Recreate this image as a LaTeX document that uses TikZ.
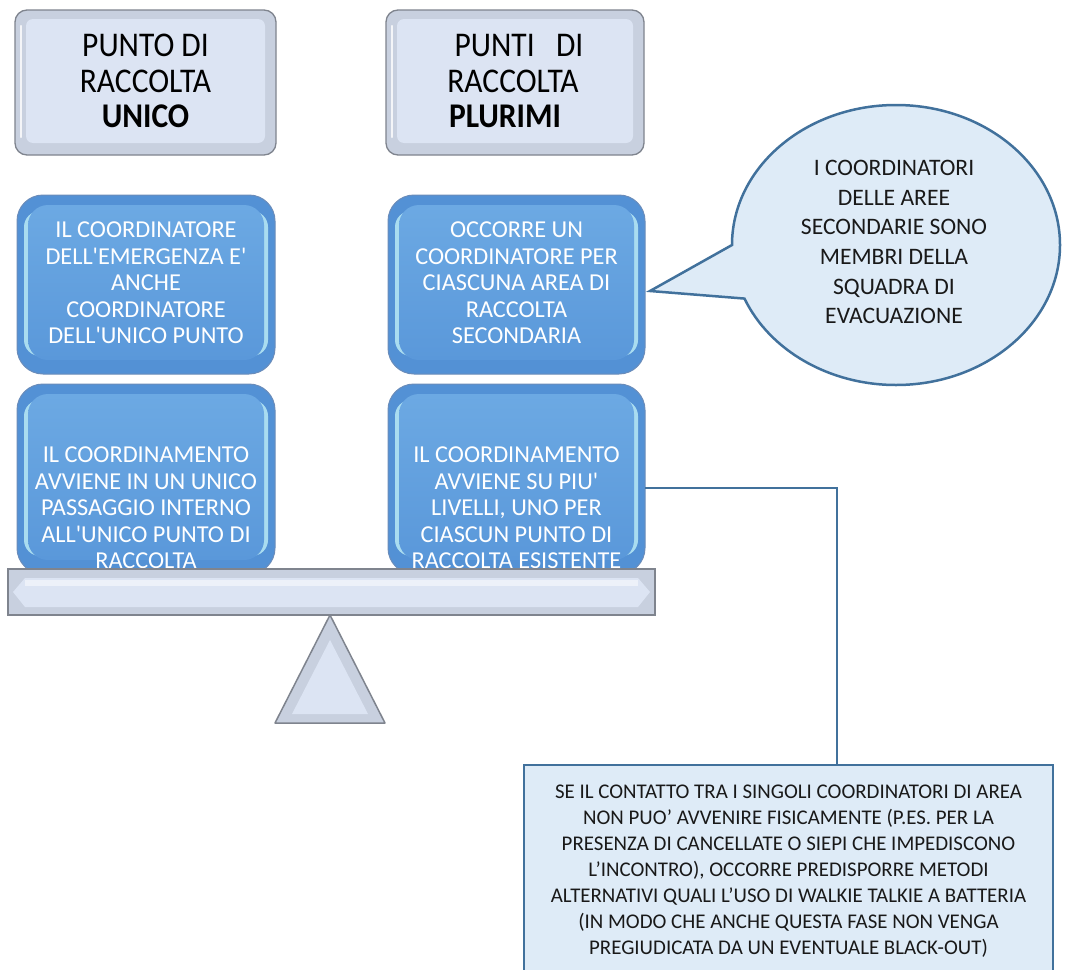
\documentclass[tikz,border=0pt]{standalone}
\usepackage{fontspec}
\setmainfont{Carlito}[Ligatures=TeXOff]
\usetikzlibrary{calc}
\definecolor{tband}{HTML}{C8D0DF}
\definecolor{tin}{HTML}{DCE4F3}
\definecolor{tbord}{HTML}{7F848E}
\definecolor{bdark}{HTML}{5391D5}
\definecolor{bedge}{HTML}{A9DCF0}
\definecolor{btop}{HTML}{6CA9E3}
\definecolor{bbot}{HTML}{5A98DA}
\definecolor{bbord}{HTML}{6A8CBA}
\definecolor{lightfill}{HTML}{DEEBF7}
\definecolor{darkline}{HTML}{41719C}
\newcommand{\topboxshape}[4]{%
  \draw[draw=tbord,line width=1.3,fill=tband,rounded corners=12] (#1,#2) rectangle (#3,#4);
  \fill[tin,rounded corners=7] (#1+11,#2+9) rectangle (#3-11,#4-12);
  \draw[white,line width=2.5,opacity=.8,line cap=round] (#1+6,#2+16) -- (#1+6,#4-18);
}
\newcommand{\blueboxshape}[4]{%
  \draw[draw=bbord,line width=1,fill=bdark,rounded corners=26] (#1,#2) rectangle (#3,#4);
  \fill[bedge,rounded corners=16] (#1+7,#2+16) rectangle (#3-7,#4-18);
  \shade[top color=btop,bottom color=bbot,rounded corners=20] (#1+11,#2+10) rectangle (#3-11,#4-14);
}
\tikzset{
  toptext/.style={inner sep=0,align=center,text=black,font=\fontsize{31.5}{32}\selectfont},
  bluetext/.style={inner sep=0,minimum width=257,align=center,text=white,font=\fontsize{24.3}{26.5}\selectfont},
  calltext/.style={inner sep=0,align=center,text=black!90,font=\fontsize{23.6}{29.7}\selectfont},
  notebox/.style={draw=darkline,line width=2,fill=lightfill,minimum width=529,minimum height=212,inner sep=0,align=center,text=black!90,font=\fontsize{20.9}{26}\selectfont},
  conn/.style={draw=darkline,line width=2},
  callout/.style={draw=darkline,line width=2.5,fill=lightfill,line join=miter}
}
\begin{document}
\begin{tikzpicture}[x=1pt,y=-1pt]
\useasboundingbox (0,0) rectangle (1073,969);
\fill[white] (0,0) rectangle (1073,969);
% top boxes
\topboxshape{15}{10}{276}{155}
\topboxshape{386}{10}{644}{155}
\node[toptext] (t1) at (145.5,85) {\scalebox{1}[1.1]{\begin{tabular}{@{}c@{}}PUNTO DI\\RACCOLTA\\\textbf{UNICO}\end{tabular}}};
\node[toptext] (t2) at (513,85) {\scalebox{1}[1.1]{\begin{tabular}{@{}c@{}}\hspace*{12pt}PUNTI\ \ \ DI\\RACCOLTA\\\textbf{PLURIMI}\hspace*{16pt}\end{tabular}}};
% blue boxes row 1
\blueboxshape{17}{195}{275}{374}
\blueboxshape{388}{195}{645}{374}
\node[bluetext] (b11) at (146,283) {IL COORDINATORE\\DELL'EMERGENZA E'\\ANCHE\\COORDINATORE\\DELL'UNICO PUNTO};
\node[bluetext] (b12) at (516.5,283) {OCCORRE UN\\COORDINATORE PER\\CIASCUNA AREA DI\\RACCOLTA\\SECONDARIA};
% blue boxes row 2
\blueboxshape{17}{384}{275}{574}
\blueboxshape{388}{384}{645}{574}
\node[bluetext] (b21) at (146,508) {IL COORDINAMENTO\\AVVIENE IN UN UNICO\\PASSAGGIO INTERNO\\ALL'UNICO PUNTO DI\\RACCOLTA};
\node[bluetext] (b22) at (516.5,508) {IL COORDINAMENTO\\AVVIENE SU PIU'\\LIVELLI, UNO PER\\CIASCUN PUNTO DI\\RACCOLTA ESISTENTE};
% beam
\draw[draw=tbord,line width=1.5,fill=tband] (8,569) rectangle (655,615);
\fill[tin] (13,592) -- (25,578) -- (638,578) -- (650,592) -- (638,607) -- (25,607) -- cycle;
\fill[white,opacity=.5] (25,580) rectangle (638,586);
% fulcrum
\draw[draw=tbord,line width=1.5,fill=tband,line join=round] (330,615) -- (385,723) -- (275,723) -- cycle;
\fill[tin] (330,640) -- (368,714) -- (292,714) -- cycle;
% callout
\draw[callout] (650,291) -- (732,245) arc[start angle=180,end angle=517.5,x radius=164,y radius=140] -- cycle;
\node[calltext] (c) at (894,242) {I COORDINATORI\\DELLE AREE\\SECONDARIE SONO\\MEMBRI DELLA\\SQUADRA DI\\EVACUAZIONE};
% note box
\node[notebox] (n) at (788.5,871) {SE IL CONTATTO TRA I SINGOLI COORDINATORI DI AREA\\NON PUO’ AVVENIRE FISICAMENTE (P.ES. PER LA\\PRESENZA DI CANCELLATE O SIEPI CHE IMPEDISCONO\\L’INCONTRO), OCCORRE PREDISPORRE METODI\\ALTERNATIVI QUALI L’USO DI WALKIE TALKIE A BATTERIA\\(IN MODO CHE ANCHE QUESTA FASE NON VENGA\\PREGIUDICATA DA UN EVENTUALE BLACK-OUT)};
% connector
\coordinate (k) at (837,488);
\draw[conn] (b22.east |- k) -- (k) -- (k |- n.north);
\end{tikzpicture}
\end{document}
